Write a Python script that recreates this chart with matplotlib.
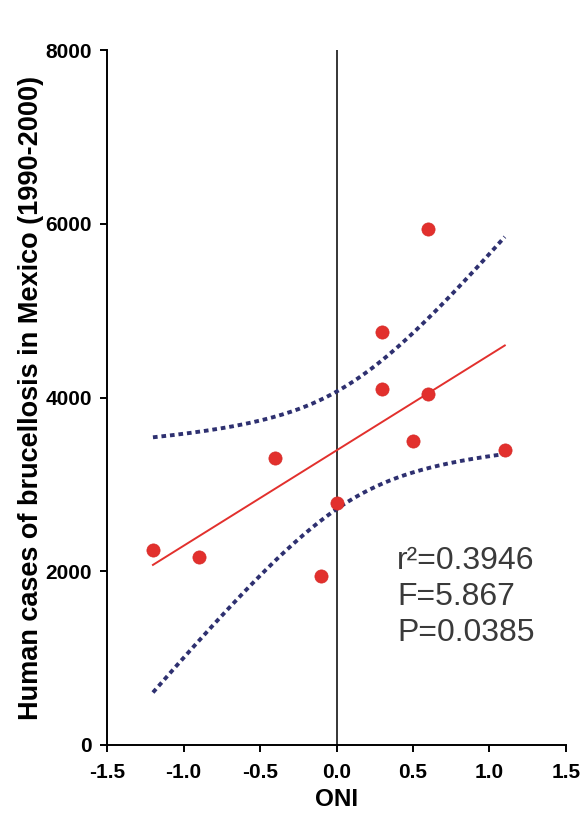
import numpy as np
import matplotlib
matplotlib.use("Agg")
import matplotlib.pyplot as plt

plt.rcParams['font.family'] = ['Liberation Sans', 'DejaVu Sans']

# Oceanic Niño Index vs. yearly human brucellosis cases, 1990-2000
oni = np.array([-1.2, -0.9, -0.4, -0.1, 0.0, 0.3, 0.3, 0.5, 0.6, 0.6, 1.1])
cases = np.array([2250, 2170, 3300, 1950, 2790, 4750, 4100, 3500, 5940, 4040, 3400])

x_ticks = [-1.5, -1.0, -0.5, 0.0, 0.5, 1.0, 1.5]
x_tick_labels = ['-1.5', '-1.0', '-0.5', '0.0', '0.5', '1.0', '1.5']
y_ticks = [0, 2000, 4000, 6000, 8000]
stats_lines = ['r\u00b2=0.3946', 'F=5.867', 'P=0.0385']
stats_y = [2025, 1611, 1197]

# Linear regression with 95% confidence band of the mean
n = len(oni)
slope, intercept = np.polyfit(oni, cases, 1)
resid = cases - (slope * oni + intercept)
s = np.sqrt(np.sum(resid ** 2) / (n - 2))
sxx = np.sum((oni - oni.mean()) ** 2)
t_crit = 2.262  # two-sided 95%, df = 9
xf = np.linspace(oni.min(), oni.max(), 200)
yf = slope * xf + intercept
half = t_crit * s * np.sqrt(1.0 / n + (xf - oni.mean()) ** 2 / sxx)

red = '#e2302d'
navy = '#2e3070'

fig = plt.figure(figsize=(5.85, 8.23), dpi=100)
ax = fig.add_axes([0.183, 0.0948, 0.7845, 0.8442])

ax.axvline(0, color='black', lw=1.1, zorder=1)
ax.plot(xf, yf, color=red, lw=1.4, zorder=2)
band_style = dict(color=navy, lw=2.8, ls=(0, (1.2, 1.0)), zorder=2)
ax.plot(xf, yf + half, **band_style)
ax.plot(xf, yf - half, **band_style)
ax.plot(oni, cases, 'o', color=red, ms=9.5, mec='#d62a26', mew=0.5, zorder=3)

ax.set_xlim(-1.5, 1.5)
ax.set_ylim(0, 8000)
ax.set_xticks(x_ticks)
ax.set_xticklabels(x_tick_labels)
ax.set_yticks(y_ticks)

for side in ('top', 'right'):
    ax.spines[side].set_visible(False)
for side in ('left', 'bottom'):
    ax.spines[side].set_linewidth(1.4)
ax.tick_params(direction='out', length=5, width=1.4, labelsize=15)
ax.tick_params(axis='x', pad=8)
ax.tick_params(axis='y', pad=6)
for lbl in ax.get_xticklabels() + ax.get_yticklabels():
    lbl.set_fontweight('bold')

ax.set_xlabel('ONI', fontsize=17.5, fontweight='bold', labelpad=4)
ax.set_ylabel('Human cases of brucellosis in Mexico (1990-2000)',
              fontsize=19.5, fontweight='bold', labelpad=1)

for txt, yv in zip(stats_lines, stats_y):
    ax.text(0.395, yv, txt, fontsize=23, ha='left', va='baseline',
            color='#3a3a3a')

fig.savefig('out.png', dpi=100)
